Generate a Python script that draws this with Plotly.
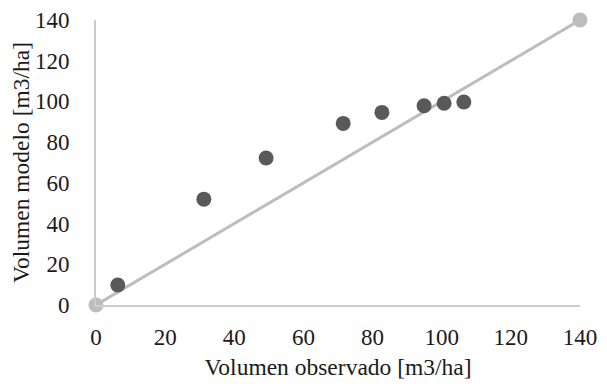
import plotly.graph_objects as go

observado = [6.3, 31.2, 49.2, 71.5, 82.7, 94.9, 100.7, 106.4]
modelo = [9.8, 52.0, 72.2, 89.2, 94.6, 97.9, 99.1, 99.7]
linea_x = [0, 140]
linea_y = [0, 140]
ticks = [0, 20, 40, 60, 80, 100, 120, 140]

FAM = "Liberation Serif, Times New Roman, serif"

fig = go.Figure()
fig.add_trace(go.Scatter(
    x=linea_x, y=linea_y, mode="lines+markers",
    line=dict(color="#bdbdbd", width=3),
    marker=dict(color="#bdbdbd", size=15),
    cliponaxis=False, showlegend=False,
))
fig.add_trace(go.Scatter(
    x=observado, y=modelo, mode="markers",
    marker=dict(color="#595959", size=15),
    cliponaxis=False, showlegend=False,
))

font = dict(family=FAM, size=20, color="#1a1a1a")
tickfont = dict(family=FAM, size=23, color="#1a1a1a")
titlefont = dict(family=FAM, size=23.5, color="#1a1a1a")
fig.update_layout(
    width=599, height=379,
    margin=dict(l=88, r=27, t=12, b=82),
    paper_bgcolor="white", plot_bgcolor="white",
    font=font,
)
fig.update_xaxes(
    range=[0, 140], tickvals=ticks, showgrid=False, zeroline=False,
    showline=True, linecolor="#cccccc", linewidth=2,
    ticks="outside", ticklen=0, tickcolor="white",
    ticklabelstandoff=10, tickfont=tickfont, automargin=False,
    title=dict(text="Volumen observado [m3/ha]", standoff=10, font=titlefont),
)
fig.update_yaxes(
    range=[0, 140], tickvals=ticks, showgrid=False, zeroline=False,
    showline=True, linecolor="#cccccc", linewidth=2,
    ticks="outside", ticklen=0, tickcolor="white",
    ticklabelstandoff=20, tickfont=tickfont, automargin=False,
    title=dict(text="Volumen modelo [m3/ha]", standoff=4, font=titlefont),
)
fig.write_html("out.html")
